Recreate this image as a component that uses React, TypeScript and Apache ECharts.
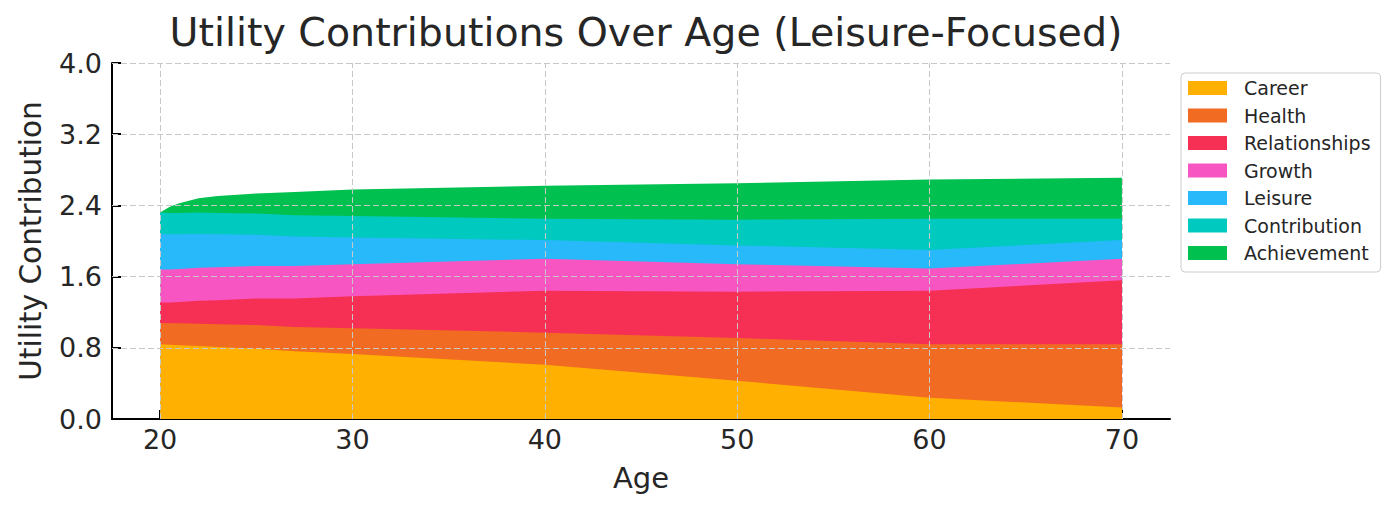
import React, { useEffect, useRef } from 'react';
import * as echarts from 'echarts';

// ages (denser near 20 where the top curve bends)
const ages = [20, 20.5, 21, 22, 23, 25, 27, 30, 40, 50, 60, 70];

const career = [0.84, 0.835, 0.83, 0.82, 0.81, 0.79, 0.76, 0.73, 0.61, 0.43, 0.24, 0.13];
const health = [0.24, 0.24, 0.245, 0.25, 0.255, 0.265, 0.275, 0.29, 0.36, 0.48, 0.6, 0.71];
const relationships = [0.23, 0.235, 0.24, 0.26, 0.27, 0.3, 0.32, 0.36, 0.47, 0.52, 0.6, 0.72];
const growth = [0.37, 0.37, 0.37, 0.37, 0.37, 0.365, 0.365, 0.36, 0.36, 0.31, 0.25, 0.24];
const leisure = [0.4, 0.395, 0.39, 0.38, 0.37, 0.35, 0.33, 0.3, 0.21, 0.21, 0.21, 0.21];
const contribution = [0.24, 0.24, 0.24, 0.24, 0.24, 0.24, 0.24, 0.24, 0.24, 0.29, 0.35, 0.24];
const achievement = [0.0, 0.07, 0.11, 0.16, 0.19, 0.225, 0.26, 0.3, 0.37, 0.41, 0.44, 0.46];

const seriesNames = ['Career', 'Health', 'Relationships', 'Growth', 'Leisure', 'Contribution', 'Achievement'];
const seriesValues = [career, health, relationships, growth, leisure, contribution, achievement];
const colors = ['#FFB000', '#F26B22', '#F53054', '#F756C2', '#28B9FB', '#00C9C0', '#00C050'];

const xTicks = [20, 30, 40, 50, 60, 70];
const yTicks = [0.8, 1.6, 2.4, 3.2, 4.0];

const FONT = 'DejaVu Sans';
const TEXT = '#262626';

const App: React.FC = () => {
  const chartRef = useRef<HTMLDivElement>(null);

  useEffect(() => {
    document.body.style.margin = '0';
    if (!chartRef.current) return;
    const chart = echarts.init(chartRef.current, undefined, { renderer: 'svg' });

    // running totals, so every band is an area down to zero painted top-first
    const totals: number[][] = [];
    seriesValues.forEach((vals, i) => {
      totals.push(vals.map((v, j) => v + (i > 0 ? totals[i - 1][j] : 0)));
    });

    const gridLines = [
      ...xTicks.map((v) => ({ xAxis: v })),
      ...yTicks.map((v) => ({ yAxis: v })),
    ];

    const order = seriesNames.map((_, i) => seriesNames.length - 1 - i);

    const option: echarts.EChartsOption = {
      animation: false,
      textStyle: { fontFamily: FONT },
      title: {
        text: 'Utility Contributions Over Age (Leisure-Focused)',
        left: 641,
        top: 7,
        textAlign: 'center',
        textStyle: { fontFamily: FONT, fontSize: 39.5, fontWeight: 'normal', color: TEXT },
      },
      legend: {
        orient: 'vertical',
        left: 1181,
        top: 73,
        padding: [5, 10, 9, 7],
        itemWidth: 39,
        itemHeight: 14,
        itemGap: 7.5,
        icon: 'rect',
        borderColor: '#cccccc',
        borderWidth: 1,
        borderRadius: 4,
        backgroundColor: '#ffffff',
        data: seriesNames,
        textStyle: {
          fontFamily: FONT,
          fontSize: 19,
          lineHeight: 20,
          color: TEXT,
          padding: [0, 0, 0, 12],
        },
      },
      grid: {
        left: 112,
        right: 230,
        top: 63,
        bottom: 95,
        outerBoundsMode: 'none',
      } as any,
      xAxis: {
        type: 'value',
        min: 17.5,
        max: 72.5,
        name: 'Age',
        nameLocation: 'middle',
        nameGap: 44,
        nameTextStyle: { fontFamily: FONT, fontSize: 29, color: TEXT },
        axisLine: { show: true, lineStyle: { color: '#000', width: 2 } },
        axisTick: { show: true, inside: true, length: 9, lineStyle: { color: '#000', width: 2 }, customValues: xTicks } as any,
        axisLabel: { customValues: xTicks, fontFamily: FONT, fontSize: 27, color: TEXT, margin: 7 } as any,
        splitLine: { show: false },
      },
      yAxis: {
        type: 'value',
        min: 0,
        max: 4,
        interval: 0.8,
        name: 'Utility Contribution',
        nameLocation: 'middle',
        nameGap: 66,
        nameTextStyle: { fontFamily: FONT, fontSize: 29.5, color: TEXT },
        axisLine: { show: true, lineStyle: { color: '#000', width: 2 } },
        axisTick: { show: true, inside: true, length: 9, lineStyle: { color: '#000', width: 2 } },
        axisLabel: {
          fontFamily: FONT,
          fontSize: 27,
          color: TEXT,
          margin: 10,
          formatter: (v: number) => v.toFixed(1),
        },
        splitLine: { show: false },
      },
      series: order.map((i, k) => ({
        name: seriesNames[i],
        type: 'line',
        symbol: 'none',
        showSymbol: false,
        smooth: false,
        z: 2 + k * 0.01,
        data: ages.map((a, j) => [a, totals[i][j]]),
        lineStyle: { width: 0 },
        itemStyle: { color: colors[i] },
        areaStyle: { color: colors[i], opacity: 1 },
        ...(k === order.length - 1
          ? {
              markLine: {
                silent: true,
                symbol: ['none', 'none'],
                label: { show: false },
                lineStyle: { color: '#c8c8c8', width: 1, type: [6, 3] },
                data: gridLines,
              },
            }
          : {}),
      })) as any,
    };

    chart.setOption(option);
    return () => {
      chart.dispose();
    };
  }, []);

  return <div ref={chartRef} style={{ width: 1400, height: 514 }} />;
};

export default App;
